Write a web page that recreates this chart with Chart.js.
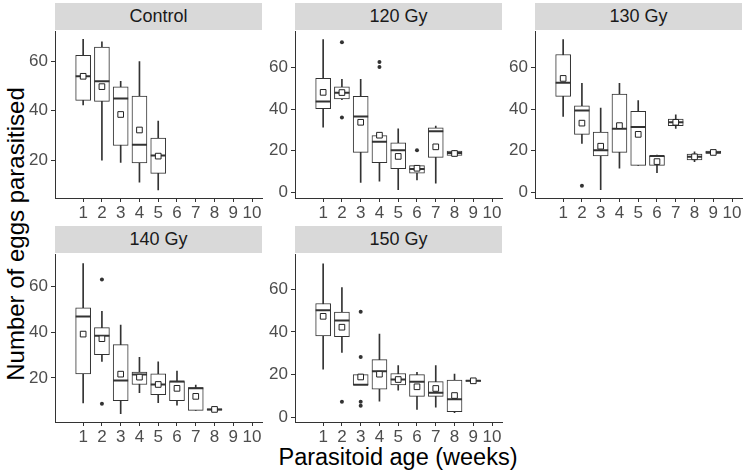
<!DOCTYPE html>
<html>
<head>
<meta charset="utf-8">
<script src="https://cdn.jsdelivr.net/npm/chart.js@4"></script>
<style>
  body { margin: 0; background: #fff; width: 746px; height: 475px; overflow: hidden; position: relative; font-family: "Liberation Sans", Arial, sans-serif; }
  canvas { position: absolute; }
  .strip { position: absolute; width: 207px; height: 27px; background: #d9d9d9; color: #1a1a1a; font-size: 18px; line-height: 27px; text-align: center; }
  .title { position: absolute; color: #000; white-space: nowrap; }
</style>
</head>
<body>
<div class="title" id="xtitle" style="left:0; width:796px; top:446px; font-size:23.5px; line-height:23.5px; text-align:center;">Parasitoid age (weeks)</div>
<div class="title" id="ytitle" style="left:-144.5px; top:222px; width:320px; font-size:24px; line-height:24px; text-align:center; transform: rotate(-90deg);">Number of eggs parasitised</div>

<script>
// panels (facets)
const panels = ['Control', '120 Gy', '130 Gy', '140 Gy', '150 Gy'];
const ageTicks = [1, 2, 3, 4, 5, 6, 7, 8, 9, 10];

// parasitoid age (weeks) present in each panel
const ages = [
  [1, 2, 3, 4, 5],
  [1, 2, 3, 4, 5, 6, 7, 8],
  [1, 2, 3, 4, 5, 6, 7, 8, 9],
  [1, 2, 3, 4, 5, 6, 7, 8],
  [1, 2, 3, 4, 5, 6, 7, 8, 9]
];

// boxplot stats, one row per panel
const lowWhisker = [
  [42.4, 20, 19, 11, 7.9],
  [31.4, 44.6, 4.8, 5.4, 1.3, 6, 4.4, 17.5],
  [36.5, 23.5, 1.3, 11.6, 13, 9.5, 30.8, 14.8, 18.9],
  [9, 27.2, 4.3, 13.5, 9.1, 8, 5.8, 5.9],
  [22.5, 30.4, 15.3, 7.6, 12.7, 3.7, 4.7, 2.2, 16.8]
];
const q1 = [
  [44.2, 43.8, 25.9, 18.8, 14.6],
  [40.3, 44.9, 19.2, 14.3, 11.4, 9.2, 16.8, 17.8],
  [46.2, 27.9, 17.5, 19.2, 13, 13, 32.1, 15.6, 18.7],
  [21.7, 30.1, 10, 17.1, 12.6, 10, 5.8, 5.9],
  [38.1, 37.8, 15.3, 13.2, 15.2, 9.8, 9.8, 2.6, 16.8]
];
const median = [
  [54, 52, 45, 26.2, 21.9],
  [43.7, 47.9, 36.5, 24.4, 20.3, 11.3, 29.4, 18.9],
  [52.7, 39.4, 20.3, 30.6, 31.4, 17.5, 33.7, 17.1, 19.2],
  [46.8, 38.4, 18.8, 21.4, 17.1, 18.4, 15.4, 6.2],
  [50.2, 45.3, 15.3, 21.6, 17.7, 16.6, 11.5, 8.4, 17.1]
];
const q3 = [
  [62.5, 65.9, 49.7, 46, 28.9],
  [54.8, 50.8, 46.2, 27.3, 23.8, 12.9, 31, 19.8],
  [66.3, 41.6, 29, 47.3, 39, 17.5, 35.2, 18.4, 19.8],
  [50.6, 41.9, 34.5, 22.5, 21.7, 18.4, 15.7, 6.5],
  [53.3, 49.3, 20, 27, 20.5, 20, 16.7, 17.4, 17.3]
];
const highWhisker = [
  [69, 68, 52, 60, 35.8],
  [73.5, 54.4, 54.4, 28, 30.6, 12.9, 31.9, 20.2],
  [73.5, 52.4, 40.5, 52.4, 44.1, 17.9, 37.3, 19.5, 19.9],
  [69.9, 49, 43, 29, 27, 22.9, 16.8, 6.5],
  [71.9, 60.8, 20, 39, 24.2, 21.1, 24.2, 20.2, 17.4]
];
const means = [
  [54, 49.8, 38.5, 32.2, 21.6],
  [48.1, 48, 33.7, 27.5, 17.3, 11.6, 21.9, 18.7],
  [54.8, 33.3, 22.2, 32.1, 27.9, 14.8, 33.7, 17.1, 19.2],
  [39.1, 37.1, 21.6, 20.3, 17.1, 15.4, 11.9, 6.2],
  [47.3, 42.2, 18.9, 20.2, 17.7, 14.3, 13.5, 10.2, 17.1]
];
// outliers as [age, value]
const outliers = [
  [],
  [[2, 72.2], [2, 36], [4, 62.7], [4, 60.3], [6, 20.2]],
  [[2, 3.2]],
  [[2, 62.9], [2, 8.7]],
  [[2, 7.3], [3, 49.5], [3, 28.2], [3, 7.3], [3, 5.4]]
];

// axis limits / ticks per panel (free y scales)
const yMin = [4.6, -2.7, -2.7, 0.7, -2.2];
const yMax = [72.3, 77.5, 77.5, 74, 76.4];
const yTicks = [[20, 40, 60], [0, 20, 40, 60], [0, 20, 40, 60], [20, 40, 60], [0, 20, 40, 60]];

// layout of panels
const plotLeft = [55, 295, 535, 55, 295];
const plotTop = [30, 30, 30, 253, 253];
const plotBottom = [198, 198, 198, 422, 422];
const plotWidth = 207;
const padL = 45, padT = 12, padR = 14, padB = 32;

const tickFont = { family: "'Liberation Sans', Arial, sans-serif", size: 17 };
const lineCol = '#333333';

panels.forEach((name, i) => {
  const strip = document.createElement('div');
  strip.className = 'strip';
  strip.style.left = plotLeft[i] + 'px';
  strip.style.top = (plotTop[i] - 27) + 'px';
  strip.textContent = name;
  document.body.appendChild(strip);

  const cv = document.createElement('canvas');
  const w = padL + plotWidth + padR;
  const h = padT + (plotBottom[i] - plotTop[i]) + padB;
  cv.width = w; cv.height = h;
  cv.style.left = (plotLeft[i] - padL) + 'px';
  cv.style.top = (plotTop[i] - padT) + 'px';
  cv.style.width = w + 'px'; cv.style.height = h + 'px';
  document.body.appendChild(cv);

  const a = ages[i];
  new Chart(cv.getContext('2d'), {
    type: 'bar',
    data: {
      datasets: [
        {
          type: 'scatter', order: 1,
          data: outliers[i].map(o => ({ x: o[0], y: o[1] })),
          pointStyle: 'circle', radius: 2, backgroundColor: lineCol, borderWidth: 0
        },
        {
          type: 'scatter', order: 2,
          data: a.map((x, k) => ({ x: x, y: means[i][k] })),
          pointStyle: 'rect', radius: 4, backgroundColor: '#ffffff', borderColor: '#222222', borderWidth: 1
        },
        {
          type: 'scatter', order: 3,
          data: a.map((x, k) => ({ x: x, y: median[i][k] })),
          pointStyle: 'line', radius: 7.5, borderColor: lineCol, borderWidth: 2
        },
        {
          order: 4, grouped: false,
          data: a.map((x, k) => ({ x: x, y: [q1[i][k], q3[i][k]] })),
          backgroundColor: '#ffffff', borderColor: lineCol, borderWidth: 1, barThickness: 15, borderSkipped: false
        },
        {
          order: 5, grouped: false,
          data: a.map((x, k) => ({ x: x, y: [lowWhisker[i][k], highWhisker[i][k]] })),
          backgroundColor: lineCol, borderWidth: 0, barThickness: 1
        }
      ]
    },
    options: {
      responsive: false,
      animation: false,
      devicePixelRatio: 1,
      layout: { padding: { left: 0, top: padT, right: padR, bottom: 0 } },
      plugins: { legend: { display: false }, tooltip: { enabled: false } },
      scales: {
        x: {
          type: 'linear', min: -0.5, max: 10.53, offset: false,
          afterFit: s => { s.height = padB; },
          afterBuildTicks: s => { s.ticks = ageTicks.map(v => ({ value: v })); },
          grid: { display: true, drawOnChartArea: false, drawTicks: true, tickLength: 4, color: lineCol, offset: false },
          border: { display: true, color: lineCol, width: 1 },
          ticks: { color: '#4d4d4d', font: tickFont, padding: 1, maxRotation: 0, autoSkip: false }
        },
        y: {
          type: 'linear', min: yMin[i], max: yMax[i],
          afterFit: s => { s.width = padL; },
          afterBuildTicks: s => { s.ticks = yTicks[i].map(v => ({ value: v })); },
          grid: { display: true, drawOnChartArea: false, drawTicks: true, tickLength: 4, color: lineCol },
          border: { display: true, color: lineCol, width: 1 },
          ticks: { color: '#4d4d4d', font: tickFont, padding: 3 }
        }
      }
    }
  });
});
</script>
</body>
</html>
